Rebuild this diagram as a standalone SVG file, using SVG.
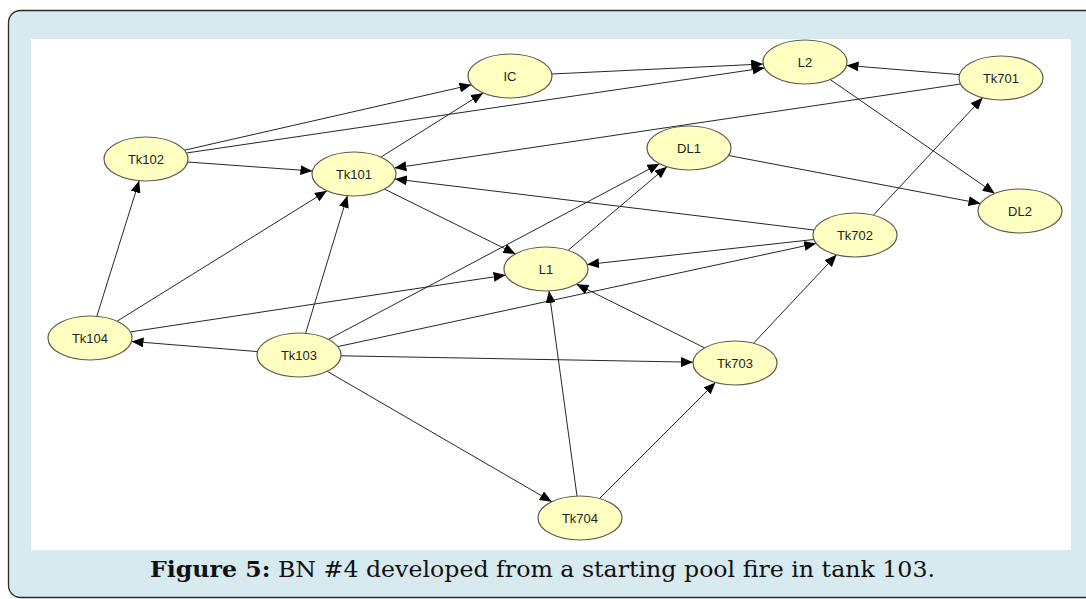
<svg xmlns="http://www.w3.org/2000/svg" width="1086" height="599" viewBox="0 0 1086 599">
  <style>
    .node ellipse { fill: #ffffc2; stroke: #5b5b50; stroke-width: 1.2; }
    .node text { font-family: "Liberation Sans", Arial, sans-serif; font-size: 13px; fill: #1e1e1e; text-anchor: middle; dominant-baseline: central; }
    #connectors line { stroke: #262626; stroke-width: 1; marker-end: url(#arrow); }
    .caption { font-family: "DejaVu Serif", "Liberation Serif", serif; font-size: 23px; fill: #111; text-anchor: middle; }
  </style>
  <defs>
    <marker id="arrow" viewBox="0 0 12 10" refX="12" refY="5" markerWidth="12" markerHeight="10" markerUnits="userSpaceOnUse" orient="auto">
      <path d="M0,0 L12,5 L0,10 Z" fill="#000"/>
    </marker>
  </defs>

  <!-- figure frame -->
  <rect x="8.5" y="10.5" width="1100" height="587" rx="12" ry="12" fill="#d6eaf0" stroke="#2a2a2a" stroke-width="1.3"/>
  <rect x="31" y="39" width="1040" height="511" fill="#ffffff"/>

  <!-- connectors -->
  <g id="connectors">
    <line x1="184.5" y1="150.2" x2="471.5" y2="84.8"/>
    <line x1="186.4" y1="153.0" x2="764.6" y2="67.9"/>
    <line x1="187.6" y1="162.0" x2="312.4" y2="171.0"/>
    <line x1="380.9" y1="157.1" x2="483.1" y2="92.9"/>
    <line x1="551.8" y1="74.0" x2="763.2" y2="64.0"/>
    <line x1="959.5" y1="74.6" x2="846.5" y2="65.4"/>
    <line x1="960.6" y1="84.0" x2="394.4" y2="168.0"/>
    <line x1="830.3" y1="79.6" x2="994.7" y2="193.4"/>
    <line x1="728.5" y1="155.5" x2="980.5" y2="203.5"/>
    <line x1="873.4" y1="215.2" x2="982.6" y2="97.8"/>
    <line x1="814.1" y1="230.0" x2="394.9" y2="179.0"/>
    <line x1="384.5" y1="189.1" x2="515.5" y2="253.9"/>
    <line x1="568.1" y1="250.3" x2="666.9" y2="166.7"/>
    <line x1="328.5" y1="339.3" x2="659.5" y2="163.7"/>
    <line x1="813.9" y1="239.5" x2="587.1" y2="264.5"/>
    <line x1="130.4" y1="331.9" x2="505.6" y2="275.1"/>
    <line x1="117.1" y1="321.2" x2="326.9" y2="190.8"/>
    <line x1="96.8" y1="316.3" x2="139.2" y2="180.7"/>
    <line x1="305.6" y1="333.3" x2="347.4" y2="195.7"/>
    <line x1="257.5" y1="351.6" x2="131.5" y2="341.4"/>
    <line x1="337.8" y1="346.6" x2="816.2" y2="243.4"/>
    <line x1="341.0" y1="355.8" x2="693.0" y2="362.2"/>
    <line x1="327.2" y1="371.3" x2="551.8" y2="501.7"/>
    <line x1="704.5" y1="347.8" x2="576.5" y2="284.2"/>
    <line x1="753.5" y1="343.3" x2="836.5" y2="254.8"/>
    <line x1="577.0" y1="496.1" x2="549.0" y2="290.9"/>
    <line x1="599.5" y1="498.5" x2="715.5" y2="382.5"/>
  </g>

  <!-- nodes -->
  <g id="IC" class="node"><ellipse cx="510" cy="76" rx="42" ry="22"/><text x="510" y="76">IC</text></g>
  <g id="L2" class="node"><ellipse cx="805" cy="62" rx="42" ry="22"/><text x="805" y="62">L2</text></g>
  <g id="Tk701" class="node"><ellipse cx="1001" cy="78" rx="42" ry="22"/><text x="1001" y="78">Tk701</text></g>
  <g id="DL2" class="node"><ellipse cx="1020" cy="211" rx="42" ry="22"/><text x="1020" y="211">DL2</text></g>
  <g id="Tk702" class="node"><ellipse cx="855" cy="235" rx="42" ry="22"/><text x="855" y="235">Tk702</text></g>
  <g id="DL1" class="node"><ellipse cx="689" cy="148" rx="42" ry="22"/><text x="689" y="148">DL1</text></g>
  <g id="Tk102" class="node"><ellipse cx="146" cy="159" rx="42" ry="22"/><text x="146" y="159">Tk102</text></g>
  <g id="Tk101" class="node"><ellipse cx="354" cy="174" rx="42" ry="22"/><text x="354" y="174">Tk101</text></g>
  <g id="Tk104" class="node"><ellipse cx="90" cy="338" rx="42" ry="22"/><text x="90" y="338">Tk104</text></g>
  <g id="Tk103" class="node"><ellipse cx="299" cy="355" rx="42" ry="22"/><text x="299" y="355">Tk103</text></g>
  <g id="L1" class="node"><ellipse cx="546" cy="269" rx="42" ry="22"/><text x="546" y="269">L1</text></g>
  <g id="Tk703" class="node"><ellipse cx="735" cy="363" rx="42" ry="22"/><text x="735" y="363">Tk703</text></g>
  <g id="Tk704" class="node"><ellipse cx="580" cy="518" rx="42" ry="22"/><text x="580" y="518">Tk704</text></g>

  <!-- caption -->
  <text class="caption" x="542.5" y="577" textLength="785" lengthAdjust="spacingAndGlyphs"><tspan font-weight="bold">Figure 5:</tspan> BN #4 developed from a starting pool fire in tank 103.</text>
</svg>
